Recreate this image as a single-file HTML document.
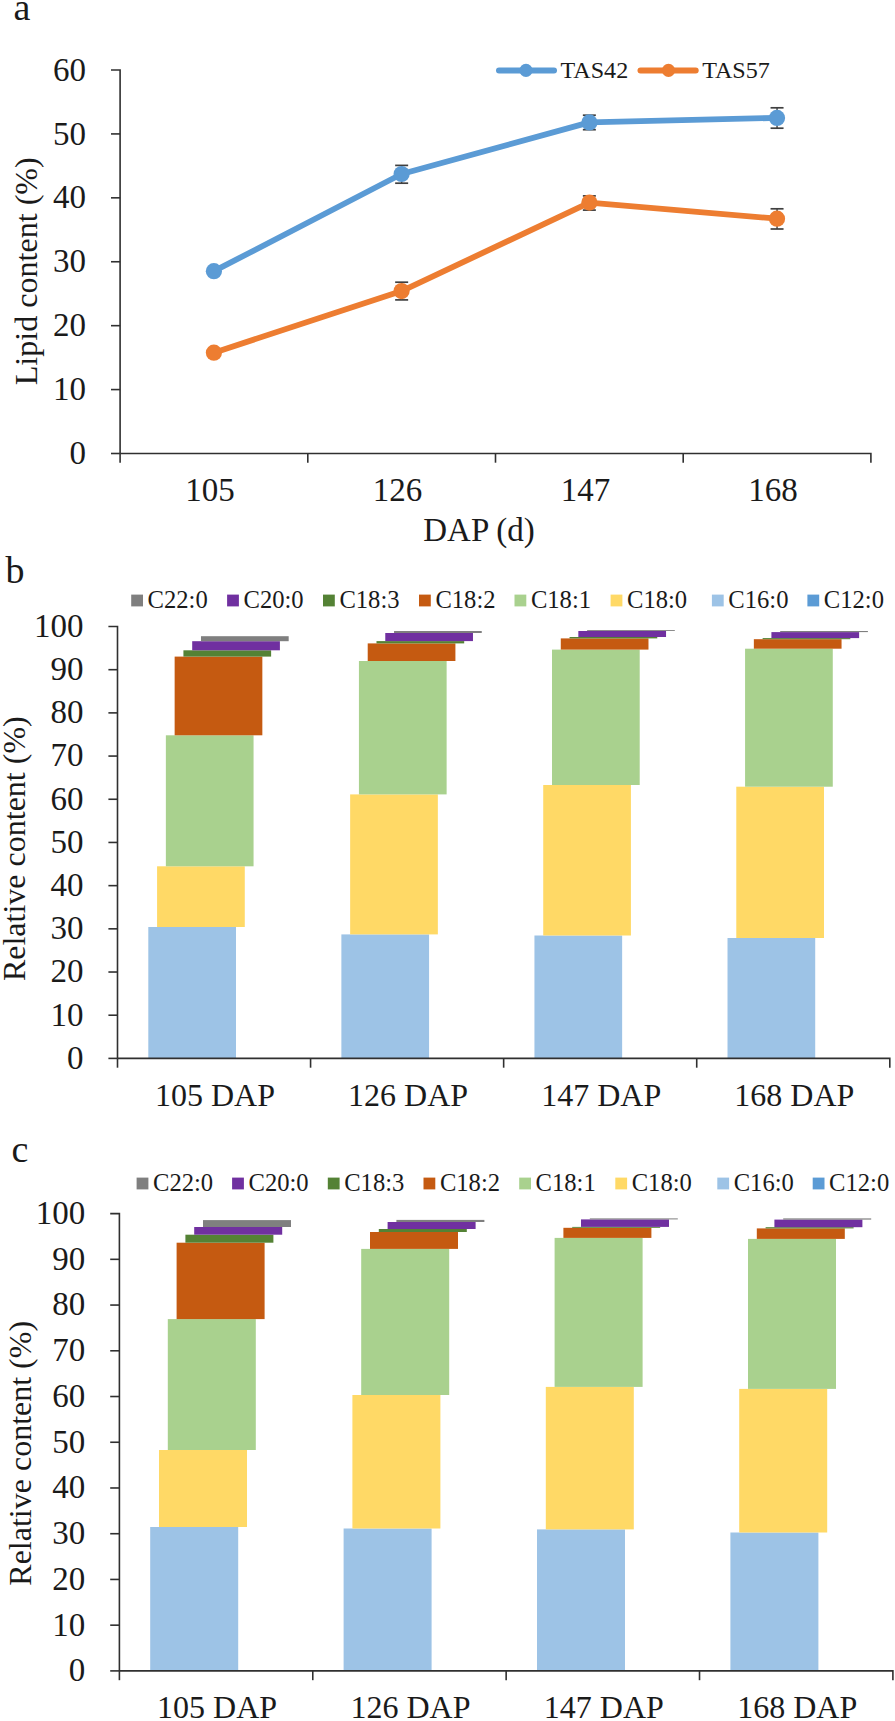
<!DOCTYPE html>
<html><head><meta charset="utf-8"><style>
html,body{margin:0;padding:0;background:#fff;}
body{width:895px;height:1721px;overflow:hidden;}
svg{display:block;}
text{font-family:"Liberation Serif", serif;fill:#1a1a1a;}
</style></head><body>
<svg width="895" height="1721" viewBox="0 0 895 1721">
<rect width="895" height="1721" fill="#fff"/>
<text x="13.5" y="19.6" font-size="38" text-anchor="start">a</text>
<text x="86.0" y="464.1" font-size="33" text-anchor="end">0</text>
<text x="86.0" y="400.2" font-size="33" text-anchor="end">10</text>
<text x="86.0" y="336.3" font-size="33" text-anchor="end">20</text>
<text x="86.0" y="272.4" font-size="33" text-anchor="end">30</text>
<text x="86.0" y="208.4" font-size="33" text-anchor="end">40</text>
<text x="86.0" y="144.5" font-size="33" text-anchor="end">50</text>
<text x="86.0" y="80.6" font-size="33" text-anchor="end">60</text>
<path d="M111.0,70.0 H120.1 V453.5" fill="none" stroke="#303030" stroke-width="1.6"/>
<line x1="111.00" y1="453.50" x2="120.10" y2="453.50" stroke="#303030" stroke-width="1.6"/>
<line x1="111.00" y1="389.58" x2="120.10" y2="389.58" stroke="#303030" stroke-width="1.6"/>
<line x1="111.00" y1="325.67" x2="120.10" y2="325.67" stroke="#303030" stroke-width="1.6"/>
<line x1="111.00" y1="261.75" x2="120.10" y2="261.75" stroke="#303030" stroke-width="1.6"/>
<line x1="111.00" y1="197.83" x2="120.10" y2="197.83" stroke="#303030" stroke-width="1.6"/>
<line x1="111.00" y1="133.92" x2="120.10" y2="133.92" stroke="#303030" stroke-width="1.6"/>
<path d="M120.1,453.5 H870.9 V462.7" fill="none" stroke="#303030" stroke-width="1.6"/>
<line x1="120.10" y1="453.50" x2="120.10" y2="462.70" stroke="#303030" stroke-width="1.6"/>
<line x1="307.80" y1="453.50" x2="307.80" y2="462.70" stroke="#303030" stroke-width="1.6"/>
<line x1="495.50" y1="453.50" x2="495.50" y2="462.70" stroke="#303030" stroke-width="1.6"/>
<line x1="683.20" y1="453.50" x2="683.20" y2="462.70" stroke="#303030" stroke-width="1.6"/>
<text x="209.9" y="500.8" font-size="33" text-anchor="middle">105</text>
<text x="397.6" y="500.8" font-size="33" text-anchor="middle">126</text>
<text x="585.4" y="500.8" font-size="33" text-anchor="middle">147</text>
<text x="773.0" y="500.8" font-size="33" text-anchor="middle">168</text>
<text x="479.0" y="540.5" font-size="33" text-anchor="middle">DAP (d)</text>
<text transform="translate(36.6,271.3) rotate(-90)" font-size="32.1" text-anchor="middle">Lipid content (%)</text>
<polyline points="213.9,271.2 401.6,174.0 589.4,122.4 777.0,117.9" fill="none" stroke="#5B9BD5" stroke-width="5.8" stroke-linejoin="round"/>
<line x1="401.65" y1="165.40" x2="401.65" y2="183.20" stroke="#404040" stroke-width="1.4"/>
<line x1="395.15" y1="165.40" x2="408.15" y2="165.40" stroke="#404040" stroke-width="1.7"/>
<line x1="395.15" y1="183.20" x2="408.15" y2="183.20" stroke="#404040" stroke-width="1.7"/>
<line x1="589.35" y1="115.20" x2="589.35" y2="129.70" stroke="#404040" stroke-width="1.4"/>
<line x1="582.85" y1="115.20" x2="595.85" y2="115.20" stroke="#404040" stroke-width="1.7"/>
<line x1="582.85" y1="129.70" x2="595.85" y2="129.70" stroke="#404040" stroke-width="1.7"/>
<line x1="777.05" y1="107.80" x2="777.05" y2="128.20" stroke="#404040" stroke-width="1.4"/>
<line x1="770.55" y1="107.80" x2="783.55" y2="107.80" stroke="#404040" stroke-width="1.7"/>
<line x1="770.55" y1="128.20" x2="783.55" y2="128.20" stroke="#404040" stroke-width="1.7"/>
<circle cx="213.9" cy="271.2" r="8.1" fill="#5B9BD5"/>
<circle cx="401.6" cy="174.0" r="8.1" fill="#5B9BD5"/>
<circle cx="589.4" cy="122.4" r="8.1" fill="#5B9BD5"/>
<circle cx="777.0" cy="117.9" r="8.1" fill="#5B9BD5"/>
<polyline points="213.9,352.7 401.6,291.1 589.4,202.6 777.0,218.7" fill="none" stroke="#ED7D31" stroke-width="5.8" stroke-linejoin="round"/>
<line x1="401.65" y1="282.20" x2="401.65" y2="299.90" stroke="#404040" stroke-width="1.4"/>
<line x1="395.15" y1="282.20" x2="408.15" y2="282.20" stroke="#404040" stroke-width="1.7"/>
<line x1="395.15" y1="299.90" x2="408.15" y2="299.90" stroke="#404040" stroke-width="1.7"/>
<line x1="589.35" y1="195.90" x2="589.35" y2="210.10" stroke="#404040" stroke-width="1.4"/>
<line x1="582.85" y1="195.90" x2="595.85" y2="195.90" stroke="#404040" stroke-width="1.7"/>
<line x1="582.85" y1="210.10" x2="595.85" y2="210.10" stroke="#404040" stroke-width="1.7"/>
<line x1="777.05" y1="208.80" x2="777.05" y2="229.00" stroke="#404040" stroke-width="1.4"/>
<line x1="770.55" y1="208.80" x2="783.55" y2="208.80" stroke="#404040" stroke-width="1.7"/>
<line x1="770.55" y1="229.00" x2="783.55" y2="229.00" stroke="#404040" stroke-width="1.7"/>
<circle cx="213.9" cy="352.7" r="8.1" fill="#ED7D31"/>
<circle cx="401.6" cy="291.1" r="8.1" fill="#ED7D31"/>
<circle cx="589.4" cy="202.6" r="8.1" fill="#ED7D31"/>
<circle cx="777.0" cy="218.7" r="8.1" fill="#ED7D31"/>
<line x1="499.00" y1="70.40" x2="554.00" y2="70.40" stroke="#5B9BD5" stroke-width="6" stroke-linecap="round"/>
<circle cx="526" cy="70.4" r="6.6" fill="#5B9BD5"/>
<text x="560.5" y="77.8" font-size="24.1" text-anchor="start">TAS42</text>
<line x1="640.50" y1="70.40" x2="695.70" y2="70.40" stroke="#ED7D31" stroke-width="6" stroke-linecap="round"/>
<circle cx="668.5" cy="70.4" r="6.6" fill="#ED7D31"/>
<text x="702.2" y="77.8" font-size="24.1" text-anchor="start">TAS57</text>
<text x="5.5" y="582.5" font-size="38" text-anchor="start">b</text>
<rect x="131.20" y="594.60" width="11.80" height="11.80" fill="#7F7F7F"/>
<text x="147.6" y="608.0" font-size="24.6" text-anchor="start">C22:0</text>
<rect x="227.10" y="594.60" width="11.80" height="11.80" fill="#7030A0"/>
<text x="243.5" y="608.0" font-size="24.6" text-anchor="start">C20:0</text>
<rect x="323.00" y="594.60" width="11.80" height="11.80" fill="#548235"/>
<text x="339.4" y="608.0" font-size="24.6" text-anchor="start">C18:3</text>
<rect x="419.00" y="594.60" width="11.80" height="11.80" fill="#C55A11"/>
<text x="435.4" y="608.0" font-size="24.6" text-anchor="start">C18:2</text>
<rect x="514.50" y="594.60" width="11.80" height="11.80" fill="#A9D18E"/>
<text x="530.9" y="608.0" font-size="24.6" text-anchor="start">C18:1</text>
<rect x="610.60" y="594.60" width="11.80" height="11.80" fill="#FFD966"/>
<text x="627.0" y="608.0" font-size="24.6" text-anchor="start">C18:0</text>
<rect x="711.90" y="594.60" width="11.80" height="11.80" fill="#9DC3E6"/>
<text x="728.3" y="608.0" font-size="24.6" text-anchor="start">C16:0</text>
<rect x="807.40" y="594.60" width="11.80" height="11.80" fill="#5B9BD5"/>
<text x="823.8" y="608.0" font-size="24.6" text-anchor="start">C12:0</text>
<rect x="148.30" y="927.00" width="87.70" height="131.40" fill="#9DC3E6"/>
<rect x="157.08" y="866.30" width="87.70" height="60.70" fill="#FFD966"/>
<rect x="165.86" y="735.30" width="87.70" height="131.00" fill="#A9D18E"/>
<rect x="174.64" y="656.60" width="87.70" height="78.70" fill="#C55A11"/>
<rect x="183.42" y="650.30" width="87.70" height="6.30" fill="#548235"/>
<rect x="192.20" y="641.20" width="87.70" height="9.10" fill="#7030A0"/>
<rect x="200.98" y="636.20" width="87.70" height="5.00" fill="#7F7F7F"/>
<rect x="341.37" y="934.40" width="87.70" height="124.00" fill="#9DC3E6"/>
<rect x="350.15" y="794.40" width="87.70" height="140.00" fill="#FFD966"/>
<rect x="358.93" y="661.00" width="87.70" height="133.40" fill="#A9D18E"/>
<rect x="367.71" y="643.40" width="87.70" height="17.60" fill="#C55A11"/>
<rect x="376.49" y="641.10" width="87.70" height="2.30" fill="#548235"/>
<rect x="385.27" y="633.00" width="87.70" height="8.10" fill="#7030A0"/>
<rect x="394.05" y="631.00" width="87.70" height="2.00" fill="#7F7F7F"/>
<rect x="534.44" y="935.50" width="87.70" height="122.90" fill="#9DC3E6"/>
<rect x="543.22" y="785.00" width="87.70" height="150.50" fill="#FFD966"/>
<rect x="552.00" y="649.60" width="87.70" height="135.40" fill="#A9D18E"/>
<rect x="560.78" y="638.40" width="87.70" height="11.20" fill="#C55A11"/>
<rect x="569.56" y="637.00" width="87.70" height="1.40" fill="#548235"/>
<rect x="578.34" y="631.00" width="87.70" height="6.00" fill="#7030A0"/>
<rect x="587.12" y="630.10" width="87.70" height="0.90" fill="#7F7F7F"/>
<rect x="727.51" y="938.00" width="87.70" height="120.40" fill="#9DC3E6"/>
<rect x="736.29" y="786.70" width="87.70" height="151.30" fill="#FFD966"/>
<rect x="745.07" y="648.70" width="87.70" height="138.00" fill="#A9D18E"/>
<rect x="753.85" y="639.20" width="87.70" height="9.50" fill="#C55A11"/>
<rect x="762.63" y="638.10" width="87.70" height="1.10" fill="#548235"/>
<rect x="771.41" y="632.10" width="87.70" height="6.00" fill="#7030A0"/>
<rect x="780.19" y="631.00" width="87.70" height="1.10" fill="#7F7F7F"/>
<text x="83.5" y="1068.7" font-size="33" text-anchor="end">0</text>
<text x="83.5" y="1025.5" font-size="33" text-anchor="end">10</text>
<text x="83.5" y="982.3" font-size="33" text-anchor="end">20</text>
<text x="83.5" y="939.1" font-size="33" text-anchor="end">30</text>
<text x="83.5" y="895.9" font-size="33" text-anchor="end">40</text>
<text x="83.5" y="852.8" font-size="33" text-anchor="end">50</text>
<text x="83.5" y="809.6" font-size="33" text-anchor="end">60</text>
<text x="83.5" y="766.4" font-size="33" text-anchor="end">70</text>
<text x="83.5" y="723.2" font-size="33" text-anchor="end">80</text>
<text x="83.5" y="680.0" font-size="33" text-anchor="end">90</text>
<text x="83.5" y="636.8" font-size="33" text-anchor="end">100</text>
<path d="M108.4,626.5 H117.5 V1058.4" fill="none" stroke="#303030" stroke-width="1.6"/>
<line x1="108.40" y1="1058.40" x2="117.50" y2="1058.40" stroke="#303030" stroke-width="1.6"/>
<line x1="108.40" y1="1015.21" x2="117.50" y2="1015.21" stroke="#303030" stroke-width="1.6"/>
<line x1="108.40" y1="972.02" x2="117.50" y2="972.02" stroke="#303030" stroke-width="1.6"/>
<line x1="108.40" y1="928.83" x2="117.50" y2="928.83" stroke="#303030" stroke-width="1.6"/>
<line x1="108.40" y1="885.64" x2="117.50" y2="885.64" stroke="#303030" stroke-width="1.6"/>
<line x1="108.40" y1="842.45" x2="117.50" y2="842.45" stroke="#303030" stroke-width="1.6"/>
<line x1="108.40" y1="799.26" x2="117.50" y2="799.26" stroke="#303030" stroke-width="1.6"/>
<line x1="108.40" y1="756.07" x2="117.50" y2="756.07" stroke="#303030" stroke-width="1.6"/>
<line x1="108.40" y1="712.88" x2="117.50" y2="712.88" stroke="#303030" stroke-width="1.6"/>
<line x1="108.40" y1="669.69" x2="117.50" y2="669.69" stroke="#303030" stroke-width="1.6"/>
<path d="M117.5,1058.4 H889.8 V1067.7" fill="none" stroke="#303030" stroke-width="1.6"/>
<line x1="117.50" y1="1058.40" x2="117.50" y2="1067.70" stroke="#303030" stroke-width="1.6"/>
<line x1="310.57" y1="1058.40" x2="310.57" y2="1067.70" stroke="#303030" stroke-width="1.6"/>
<line x1="503.65" y1="1058.40" x2="503.65" y2="1067.70" stroke="#303030" stroke-width="1.6"/>
<line x1="696.72" y1="1058.40" x2="696.72" y2="1067.70" stroke="#303030" stroke-width="1.6"/>
<text x="215.0" y="1106.3" font-size="32" text-anchor="middle">105 DAP</text>
<text x="408.1" y="1106.3" font-size="32" text-anchor="middle">126 DAP</text>
<text x="601.2" y="1106.3" font-size="32" text-anchor="middle">147 DAP</text>
<text x="794.3" y="1106.3" font-size="32" text-anchor="middle">168 DAP</text>
<text transform="translate(25.0,848.7) rotate(-90)" font-size="32" text-anchor="middle">Relative content (%)</text>
<text x="11.5" y="1161.8" font-size="38" text-anchor="start">c</text>
<rect x="136.60" y="1177.60" width="11.80" height="11.80" fill="#7F7F7F"/>
<text x="153.0" y="1191.0" font-size="24.6" text-anchor="start">C22:0</text>
<rect x="232.10" y="1177.60" width="11.80" height="11.80" fill="#7030A0"/>
<text x="248.5" y="1191.0" font-size="24.6" text-anchor="start">C20:0</text>
<rect x="327.80" y="1177.60" width="11.80" height="11.80" fill="#548235"/>
<text x="344.2" y="1191.0" font-size="24.6" text-anchor="start">C18:3</text>
<rect x="423.50" y="1177.60" width="11.80" height="11.80" fill="#C55A11"/>
<text x="439.9" y="1191.0" font-size="24.6" text-anchor="start">C18:2</text>
<rect x="519.20" y="1177.60" width="11.80" height="11.80" fill="#A9D18E"/>
<text x="535.6" y="1191.0" font-size="24.6" text-anchor="start">C18:1</text>
<rect x="615.30" y="1177.60" width="11.80" height="11.80" fill="#FFD966"/>
<text x="631.7" y="1191.0" font-size="24.6" text-anchor="start">C18:0</text>
<rect x="717.30" y="1177.60" width="11.80" height="11.80" fill="#9DC3E6"/>
<text x="733.7" y="1191.0" font-size="24.6" text-anchor="start">C16:0</text>
<rect x="812.70" y="1177.60" width="11.80" height="11.80" fill="#5B9BD5"/>
<text x="829.1" y="1191.0" font-size="24.6" text-anchor="start">C12:0</text>
<rect x="150.20" y="1527.00" width="88.00" height="143.90" fill="#9DC3E6"/>
<rect x="159.00" y="1450.00" width="88.00" height="77.00" fill="#FFD966"/>
<rect x="167.80" y="1319.10" width="88.00" height="130.90" fill="#A9D18E"/>
<rect x="176.60" y="1242.70" width="88.00" height="76.40" fill="#C55A11"/>
<rect x="185.40" y="1234.70" width="88.00" height="8.00" fill="#548235"/>
<rect x="194.20" y="1227.00" width="88.00" height="7.70" fill="#7030A0"/>
<rect x="203.00" y="1220.10" width="88.00" height="6.90" fill="#7F7F7F"/>
<rect x="343.60" y="1528.50" width="88.00" height="142.40" fill="#9DC3E6"/>
<rect x="352.40" y="1395.00" width="88.00" height="133.50" fill="#FFD966"/>
<rect x="361.20" y="1248.90" width="88.00" height="146.10" fill="#A9D18E"/>
<rect x="370.00" y="1232.00" width="88.00" height="16.90" fill="#C55A11"/>
<rect x="378.80" y="1229.00" width="88.00" height="3.00" fill="#548235"/>
<rect x="387.60" y="1222.00" width="88.00" height="7.00" fill="#7030A0"/>
<rect x="396.40" y="1219.90" width="88.00" height="2.10" fill="#7F7F7F"/>
<rect x="537.00" y="1529.40" width="88.00" height="141.50" fill="#9DC3E6"/>
<rect x="545.80" y="1386.90" width="88.00" height="142.50" fill="#FFD966"/>
<rect x="554.60" y="1237.90" width="88.00" height="149.00" fill="#A9D18E"/>
<rect x="563.40" y="1227.80" width="88.00" height="10.10" fill="#C55A11"/>
<rect x="572.20" y="1226.90" width="88.00" height="0.90" fill="#548235"/>
<rect x="581.00" y="1219.40" width="88.00" height="7.50" fill="#7030A0"/>
<rect x="589.80" y="1218.40" width="88.00" height="1.00" fill="#7F7F7F"/>
<rect x="730.40" y="1532.50" width="88.00" height="138.40" fill="#9DC3E6"/>
<rect x="739.20" y="1388.90" width="88.00" height="143.60" fill="#FFD966"/>
<rect x="748.00" y="1238.90" width="88.00" height="150.00" fill="#A9D18E"/>
<rect x="756.80" y="1228.40" width="88.00" height="10.50" fill="#C55A11"/>
<rect x="765.60" y="1227.20" width="88.00" height="1.20" fill="#548235"/>
<rect x="774.40" y="1219.60" width="88.00" height="7.60" fill="#7030A0"/>
<rect x="783.20" y="1218.40" width="88.00" height="1.20" fill="#7F7F7F"/>
<text x="85.3" y="1681.2" font-size="33" text-anchor="end">0</text>
<text x="85.3" y="1635.5" font-size="33" text-anchor="end">10</text>
<text x="85.3" y="1589.7" font-size="33" text-anchor="end">20</text>
<text x="85.3" y="1544.0" font-size="33" text-anchor="end">30</text>
<text x="85.3" y="1498.3" font-size="33" text-anchor="end">40</text>
<text x="85.3" y="1452.5" font-size="33" text-anchor="end">50</text>
<text x="85.3" y="1406.8" font-size="33" text-anchor="end">60</text>
<text x="85.3" y="1361.1" font-size="33" text-anchor="end">70</text>
<text x="85.3" y="1315.4" font-size="33" text-anchor="end">80</text>
<text x="85.3" y="1269.6" font-size="33" text-anchor="end">90</text>
<text x="85.3" y="1223.9" font-size="33" text-anchor="end">100</text>
<path d="M110.2,1213.6 H119.4 V1670.9" fill="none" stroke="#303030" stroke-width="1.6"/>
<line x1="110.20" y1="1670.90" x2="119.40" y2="1670.90" stroke="#303030" stroke-width="1.6"/>
<line x1="110.20" y1="1625.17" x2="119.40" y2="1625.17" stroke="#303030" stroke-width="1.6"/>
<line x1="110.20" y1="1579.44" x2="119.40" y2="1579.44" stroke="#303030" stroke-width="1.6"/>
<line x1="110.20" y1="1533.71" x2="119.40" y2="1533.71" stroke="#303030" stroke-width="1.6"/>
<line x1="110.20" y1="1487.98" x2="119.40" y2="1487.98" stroke="#303030" stroke-width="1.6"/>
<line x1="110.20" y1="1442.25" x2="119.40" y2="1442.25" stroke="#303030" stroke-width="1.6"/>
<line x1="110.20" y1="1396.52" x2="119.40" y2="1396.52" stroke="#303030" stroke-width="1.6"/>
<line x1="110.20" y1="1350.79" x2="119.40" y2="1350.79" stroke="#303030" stroke-width="1.6"/>
<line x1="110.20" y1="1305.06" x2="119.40" y2="1305.06" stroke="#303030" stroke-width="1.6"/>
<line x1="110.20" y1="1259.33" x2="119.40" y2="1259.33" stroke="#303030" stroke-width="1.6"/>
<path d="M119.4,1670.9 H892.9 V1680.2" fill="none" stroke="#303030" stroke-width="1.6"/>
<line x1="119.40" y1="1670.90" x2="119.40" y2="1680.20" stroke="#303030" stroke-width="1.6"/>
<line x1="312.77" y1="1670.90" x2="312.77" y2="1680.20" stroke="#303030" stroke-width="1.6"/>
<line x1="506.15" y1="1670.90" x2="506.15" y2="1680.20" stroke="#303030" stroke-width="1.6"/>
<line x1="699.52" y1="1670.90" x2="699.52" y2="1680.20" stroke="#303030" stroke-width="1.6"/>
<text x="217.1" y="1718.3" font-size="32" text-anchor="middle">105 DAP</text>
<text x="410.5" y="1718.3" font-size="32" text-anchor="middle">126 DAP</text>
<text x="603.8" y="1718.3" font-size="32" text-anchor="middle">147 DAP</text>
<text x="797.2" y="1718.3" font-size="32" text-anchor="middle">168 DAP</text>
<text transform="translate(30.5,1453.3) rotate(-90)" font-size="32" text-anchor="middle">Relative content (%)</text>
</svg>
</body></html>
